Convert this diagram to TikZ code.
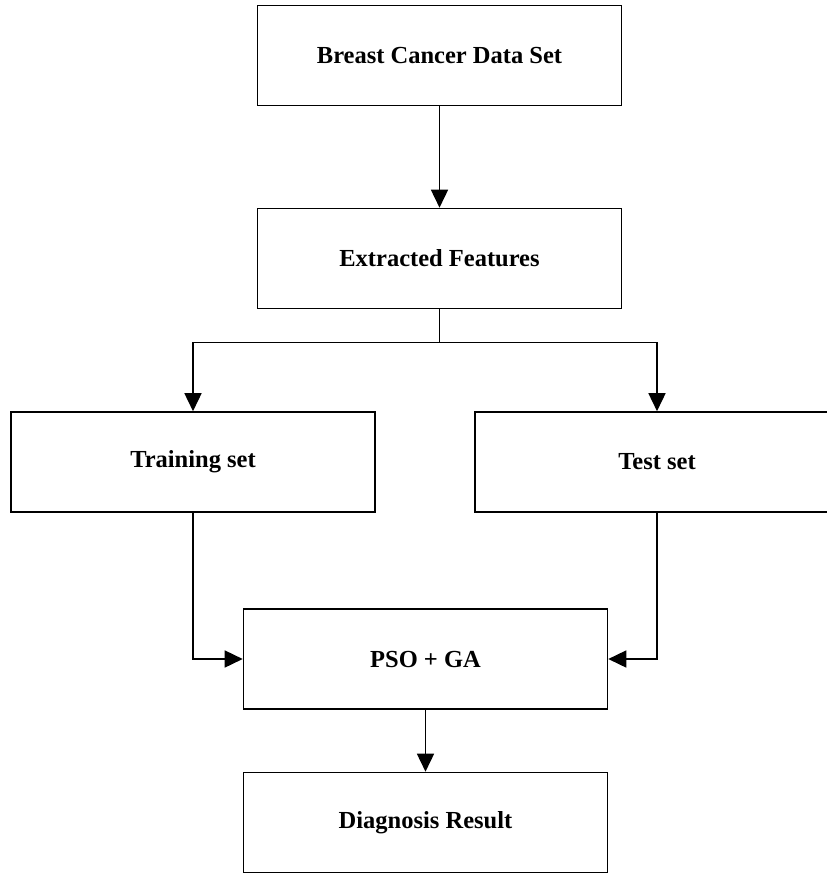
\documentclass[tikz,border=0pt]{standalone}
\usepackage{fontspec}
\setmainfont{Liberation Serif}
\usetikzlibrary{arrows.meta,calc}

\tikzset{
    stage/.style={draw, line width=1.6pt, minimum width=364pt, minimum height=100pt,
        inner sep=0pt, font=\fontsize{24.5}{28}\selectfont\bfseries},
    flow/.style={line width=1.6pt, -{Triangle[width=17pt,length=18pt]}}
}

\begin{document}
\begin{tikzpicture}[x=1pt, y=1pt]
    \clip (0,0) rectangle (827,-873);

    % Boxes
    \node[stage] (data) at (439.5,-55.5) {Breast Cancer Data Set};
    \node[stage] (features) at (439.5,-258.5) {Extracted Features};
    \node[stage] (train) at (193,-462) {Training set};
    \node[stage] (test) at (657,-462) {Test set};
    \node[stage] (pso) at (425.5,-659) {PSO + GA};
    \node[stage] (result) at (425.5,-822.5) {Diagnosis Result};

    % Split point
    \coordinate (fork) at ($(features.south)+(0,-33)$);

    % Arrows
    \draw[flow] (data) -- (features);
    \draw[line width=1.6pt] (features.south) -- (fork);
    \draw[flow] (fork) -| (train.north);
    \draw[flow] (fork) -| (test.north);
    \draw[flow] (train.south) |- (pso.west);
    \draw[flow] (test.south) |- (pso.east);
    \draw[flow] (pso) -- (result);
\end{tikzpicture}
\end{document}
